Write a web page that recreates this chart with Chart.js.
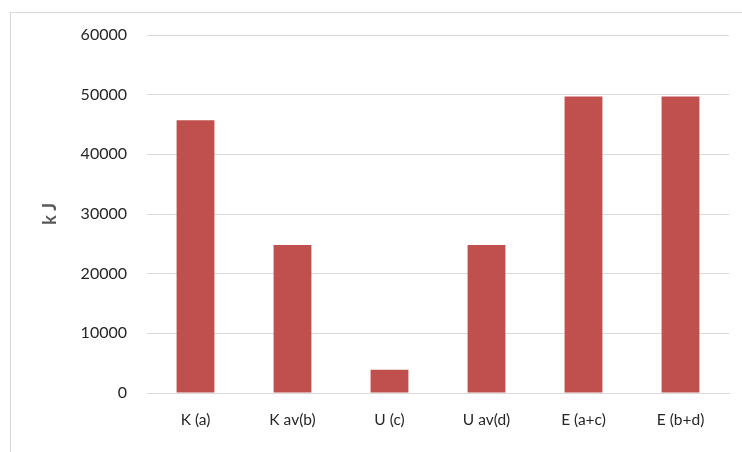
<!DOCTYPE html>
<html>
<head>
<meta charset="utf-8">
<script src="https://cdn.jsdelivr.net/npm/chart.js@4/dist/chart.umd.min.js"></script>
<style>
  html, body { margin: 0; padding: 0; background: #fff; }
  #wrap { position: relative; width: 742px; height: 452px; overflow: hidden; }
  #frame { position: absolute; left: 10px; top: 12px; width: 760px; height: 470px; border: 1px solid #d9d9d9; box-sizing: border-box; }
  canvas { position: absolute; left: 0; top: 0; }
</style>
</head>
<body>
<div id="wrap">
  <div id="frame"></div>
  <canvas id="c" width="742" height="452"></canvas>
</div>
<script>
const categories = ['K (a)', 'K av(b)', 'U (c)', 'U av(d)', 'E (a+c)', 'E (b+d)'];
const energyValues = [45700, 24800, 3900, 24800, 49700, 49700];
const yTicks = [0, 10000, 20000, 30000, 40000, 50000, 60000];
const yTitle = 'k J';

const fontFamily = 'Lato, "Open Sans", sans-serif';

new Chart(document.getElementById('c'), {
  type: 'bar',
  data: {
    labels: categories,
    datasets: [{
      data: energyValues,
      backgroundColor: '#C0504D',
      borderWidth: 0,
      barPercentage: 0.39,
      categoryPercentage: 1.0
    }]
  },
  options: {
    responsive: false,
    animation: false,
    devicePixelRatio: 1,
    layout: { padding: { top: 35, right: 13, bottom: 0, left: 0 } },
    plugins: { legend: { display: false }, tooltip: { enabled: false } },
    scales: {
      x: {
        grid: { display: false, drawTicks: false },
        border: { display: true, color: '#d9d9d9', width: 1 },
        ticks: { color: '#262626', font: { family: fontFamily, size: 15.5 }, padding: 18, maxRotation: 0 },
        afterFit: (s) => { s.height = 59; }
      },
      y: {
        min: yTicks[0],
        max: yTicks[yTicks.length - 1],
        afterBuildTicks: (s) => { s.ticks = yTicks.map(v => ({ value: v })); },
        grid: { color: '#d9d9d9', lineWidth: 1, drawTicks: false },
        border: { display: false },
        ticks: { color: '#262626', font: { family: fontFamily, size: 16 }, padding: 20, callback: (v) => String(v) },
        title: {
          display: true,
          text: yTitle,
          color: '#595959',
          font: { family: fontFamily, size: 18, weight: 'bold' },
          padding: { top: 39, bottom: 0 }
        },
        afterFit: (s) => { s.width = 147; }
      }
    }
  }
});
</script>
</body>
</html>
